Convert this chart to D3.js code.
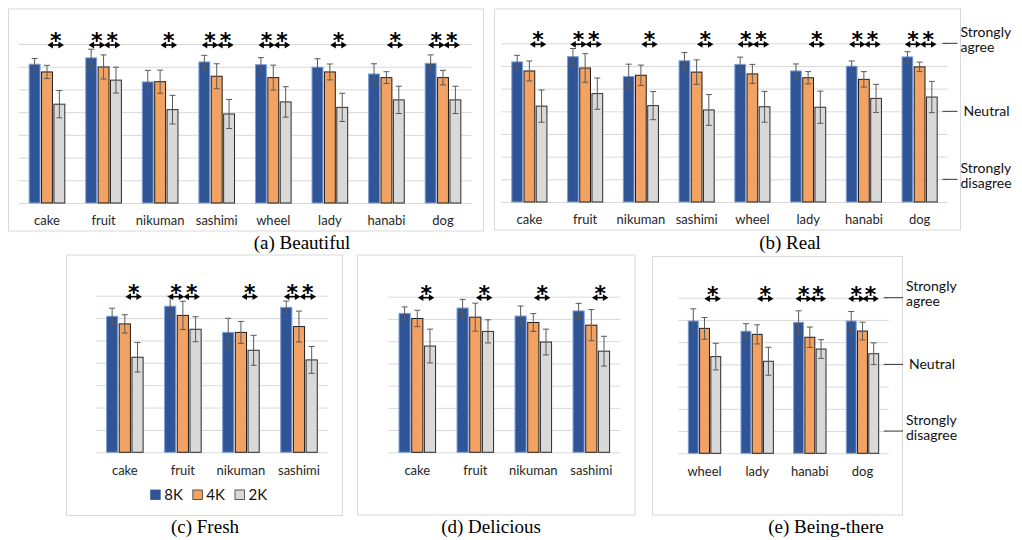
<!DOCTYPE html>
<html>
<head>
<meta charset="utf-8">
<script src="https://cdn.jsdelivr.net/npm/d3@7"></script>
<style>
  body { margin: 0; background: #fff; }
  svg { display: block; }
</style>
</head>
<body>
<svg id="chart" width="1022" height="540"></svg>
<script>
const resolutions = ['8K', '4K', '2K'];
const foodScenes = ['cake', 'fruit', 'nikuman', 'sashimi'];
const placeScenes = ['wheel', 'lady', 'hanabi', 'dog'];
const allScenes = [...foodScenes, ...placeScenes];
const yTicks = [0, 1, 2, 3, 4, 5, 6, 7];
const likertLevels = [7, 4, 1];
const likertText = [['Strongly', 'agree'], ['Neutral'], ['Strongly', 'disagree']];

// rows are 8K, 4K, 2K
const beautifulMean = [
  [6.11, 6.39, 5.33, 6.21, 6.09, 5.98, 5.68, 6.15],
  [5.77, 5.99, 5.34, 5.58, 5.52, 5.77, 5.52, 5.52],
  [4.35, 5.41, 4.11, 3.92, 4.45, 4.21, 4.54, 4.54]
];
const beautifulErr = [
  [0.25, 0.38, 0.51, 0.29, 0.31, 0.37, 0.45, 0.37],
  [0.29, 0.53, 0.51, 0.55, 0.55, 0.35, 0.26, 0.32],
  [0.60, 0.57, 0.63, 0.64, 0.67, 0.62, 0.60, 0.60]
];
const realMean = [
  [6.18, 6.41, 5.54, 6.23, 6.07, 5.78, 5.99, 6.40],
  [5.78, 5.91, 5.59, 5.73, 5.65, 5.48, 5.41, 5.96],
  [4.23, 4.78, 4.25, 4.06, 4.20, 4.18, 4.57, 4.63]
];
const realErr = [
  [0.29, 0.36, 0.54, 0.36, 0.32, 0.31, 0.23, 0.23],
  [0.44, 0.63, 0.45, 0.54, 0.42, 0.27, 0.34, 0.21],
  [0.71, 0.69, 0.62, 0.68, 0.68, 0.71, 0.62, 0.69]
];
const freshMean = [
  [6.08, 6.53, 5.36, 6.48],
  [5.74, 6.12, 5.36, 5.62],
  [4.25, 5.50, 4.56, 4.13]
];
const freshErr = [
  [0.36, 0.45, 0.63, 0.28],
  [0.41, 0.63, 0.49, 0.69],
  [0.66, 0.56, 0.67, 0.60]
];
const deliciousMean = [
  [6.25, 6.49, 6.13, 6.36],
  [6.02, 6.08, 5.84, 5.72],
  [4.78, 5.44, 4.96, 4.55]
];
const deliciousErr = [
  [0.29, 0.39, 0.45, 0.34],
  [0.37, 0.63, 0.40, 0.70],
  [0.76, 0.52, 0.58, 0.67]
];
const beingMean = [
  [5.95, 5.49, 5.89, 5.95],
  [5.62, 5.35, 5.22, 5.50],
  [4.35, 4.14, 4.69, 4.48]
];
const beingErr = [
  [0.55, 0.34, 0.52, 0.43],
  [0.49, 0.43, 0.46, 0.40],
  [0.60, 0.63, 0.42, 0.49]
];

// significant pairs (indices into resolutions), one list per scene
const beautifulSig = [[[1, 2]], [[0, 1], [1, 2]], [[1, 2]], [[0, 1], [1, 2]], [[0, 1], [1, 2]], [[1, 2]], [[1, 2]], [[0, 1], [1, 2]]];
const realSig = [[[1, 2]], [[0, 1], [1, 2]], [[1, 2]], [[1, 2]], [[0, 1], [1, 2]], [[1, 2]], [[0, 1], [1, 2]], [[0, 1], [1, 2]]];
const freshSig = [[[1, 2]], [[0, 1], [1, 2]], [[1, 2]], [[0, 1], [1, 2]]];
const deliciousSig = [[[1, 2]], [[1, 2]], [[1, 2]], [[1, 2]]];
const beingSig = [[[1, 2]], [[1, 2]], [[0, 1], [1, 2]], [[0, 1], [1, 2]]];

const fill = { '8K': '#2f5597', '4K': '#f2a263', '2K': '#d9d9d9' };
const stroke = { '8K': '#7f9fd6', '4K': '#1e1e1e', '2K': '#2b2b2b' };
const sansFont = 'Lato, "Open Sans", sans-serif';
const serifFont = '"Liberation Serif", "Times New Roman", serif';

const panels = [
  { cats: allScenes, mean: beautifulMean, err: beautifulErr, sig: beautifulSig,
    frame: [8.5, 9, 475, 222], xr: [18.7, 471.3], yr: [203, 44], pad: 0.37,
    caption: '(a) Beautiful', capX: 302, capY: 249 },
  { cats: allScenes, mean: realMean, err: realErr, sig: realSig,
    frame: [494.5, 9, 466, 221], xr: [501.5, 947.5], yr: [202, 43.3], pad: 0.37,
    caption: '(b) Real', capX: 790, capY: 249, likertEnd: 957.5 },
  { cats: foodScenes, mean: freshMean, err: freshErr, sig: freshSig,
    frame: [66.5, 255, 276, 260.5], xr: [95.8, 328], yr: [452.3, 295.7], pad: 0.37,
    caption: '(c) Fresh', capX: 205, capY: 533, legend: true },
  { cats: foodScenes, mean: deliciousMean, err: deliciousErr, sig: deliciousSig,
    frame: [357.5, 255, 277.5, 260], xr: [388.3, 620.3], yr: [452.3, 296.7], pad: 0.37,
    caption: '(d) Delicious', capX: 491, capY: 533 },
  { cats: placeScenes, mean: beingMean, err: beingErr, sig: beingSig,
    frame: [652.5, 256.5, 250, 258.5], xr: [678.2, 888.8], yr: [453.3, 297.7], pad: 0.385,
    caption: '(e) Being-there', capX: 826, capY: 533, likertEnd: 903 }
];

const svg = d3.select('#chart');

panels.forEach(p => drawPanel(p));

function drawPanel(p) {
  const g = svg.append('g');

  g.append('rect')
    .attr('x', p.frame[0]).attr('y', p.frame[1])
    .attr('width', p.frame[2]).attr('height', p.frame[3])
    .attr('fill', 'none').attr('stroke', '#d9d9d9').attr('stroke-width', 1);

  const x0 = d3.scaleBand().domain(p.cats).range(p.xr)
    .paddingInner(p.pad).paddingOuter(p.pad / 2);
  const x1 = d3.scaleBand().domain(resolutions).range([0, x0.bandwidth()]).paddingInner(0.12);
  const y = d3.scaleLinear().domain([0, 7]).range(p.yr);

  // gridlines
  g.append('g')
    .attr('transform', `translate(${p.xr[0]},0)`)
    .call(d3.axisLeft(y).tickValues(yTicks).tickSize(-(p.xr[1] - p.xr[0])).tickFormat(''))
    .call(a => a.select('.domain').remove())
    .call(a => a.selectAll('line').attr('stroke', '#d9d9d9').attr('stroke-width', 1));

  // category labels
  g.append('g')
    .attr('transform', `translate(0,${p.yr[0]})`)
    .call(d3.axisBottom(x0).tickSize(0).tickPadding(13))
    .call(a => a.select('.domain').remove())
    .call(a => a.selectAll('text')
      .attr('fill', '#262626')
      .style('font-family', sansFont)
      .style('font-size', '13px'));

  const rows = [];
  p.cats.forEach((c, i) => {
    resolutions.forEach((r, k) => {
      rows.push({ cat: c, res: r, m: p.mean[k][i], e: p.err[k][i] });
    });
  });

  g.append('g')
    .selectAll('rect')
    .data(rows)
    .join('rect')
    .attr('x', d => x0(d.cat) + x1(d.res))
    .attr('y', d => y(d.m))
    .attr('width', x1.bandwidth())
    .attr('height', d => y(0) - y(d.m))
    .attr('fill', d => fill[d.res])
    .attr('stroke', d => stroke[d.res])
    .attr('stroke-width', 1);

  // error bars
  const eb = g.append('g')
    .selectAll('g')
    .data(rows)
    .join('g')
    .attr('stroke', '#5a5a5a')
    .attr('stroke-width', 1);
  const cx = d => x0(d.cat) + x1(d.res) + x1.bandwidth() / 2;
  eb.append('line')
    .attr('x1', cx).attr('x2', cx)
    .attr('y1', d => y(d.m + d.e)).attr('y2', d => y(d.m - d.e));
  eb.append('line')
    .attr('x1', d => cx(d) - 3).attr('x2', d => cx(d) + 3)
    .attr('y1', d => y(d.m + d.e)).attr('y2', d => y(d.m + d.e));
  eb.append('line')
    .attr('x1', d => cx(d) - 3).attr('x2', d => cx(d) + 3)
    .attr('y1', d => y(d.m - d.e)).attr('y2', d => y(d.m - d.e));

  // significance arrows
  const marks = [];
  p.cats.forEach((c, i) => {
    p.sig[i].forEach(([a, b]) => {
      const ca = x0(c) + x1(resolutions[a]) + x1.bandwidth() / 2;
      const cb = x0(c) + x1(resolutions[b]) + x1.bandwidth() / 2;
      const shift = a === 0 ? -0.5 : 2.5;
      marks.push({ x: (ca + cb) / 2 + shift });
    });
  });
  const ay = y(7) + 1;
  const half = 8.25;
  const sg = g.append('g').selectAll('g').data(marks).join('g')
    .attr('transform', d => `translate(${d.x},${ay})`);
  sg.append('line')
    .attr('x1', -half + 4).attr('x2', half - 4)
    .attr('stroke', '#000').attr('stroke-width', 1.6);
  sg.append('path')
    .attr('d', `M${-half},0L${-half + 5.5},-3.4L${-half + 5.5},3.4Z M${half},0L${half - 5.5},-3.4L${half - 5.5},3.4Z`)
    .attr('fill', '#000');
  sg.append('text')
    .attr('y', 3)
    .attr('text-anchor', 'middle')
    .style('font-family', '"DejaVu Sans", sans-serif')
    .style('font-size', '22px')
    .style('font-weight', 'bold')
    .attr('fill', '#000')
    .text('*');

  // likert annotations on the right
  if (p.likertEnd) {
    const la = g.append('g').selectAll('g')
      .data(likertLevels.map((v, i) => ({ v, lines: likertText[i] })))
      .join('g')
      .attr('transform', d => `translate(0,${y(d.v)})`);
    la.append('line')
      .attr('x1', p.xr[1] - 5).attr('x2', p.likertEnd)
      .attr('stroke', '#333').attr('stroke-width', 1);
    la.each(function (d) {
      const sel = d3.select(this);
      const single = d.lines.length === 1;
      d.lines.forEach((s, j) => {
        sel.append('text')
          .attr('x', p.likertEnd + (single ? 6 : 3))
          .attr('y', single ? 5 : (j === 0 ? -6.5 : 8.5))
          .attr('fill', '#111')
          .style('font-family', sansFont)
          .style('font-size', '14px')
          .text(s);
      });
    });
  }

  // legend
  if (p.legend) {
    const lg = g.append('g').attr('transform', 'translate(150.7,495)');
    let lx = 0;
    resolutions.forEach(r => {
      lg.append('rect')
        .attr('x', lx).attr('y', -5).attr('width', 9.5).attr('height', 9.5)
        .attr('fill', fill[r])
        .attr('stroke', r === '8K' ? fill[r] : '#333').attr('stroke-width', 0.8);
      const t = lg.append('text')
        .attr('x', lx + 13.5).attr('y', 5)
        .attr('fill', '#111')
        .style('font-family', sansFont)
        .style('font-size', '15px')
        .text(r);
      lx += 13.5 + t.node().getComputedTextLength() + 10;
    });
  }

  g.append('text')
    .attr('x', p.capX).attr('y', p.capY)
    .attr('text-anchor', 'middle')
    .attr('fill', '#000')
    .style('font-family', serifFont)
    .style('font-size', '19px')
    .text(p.caption);
}
</script>
</body>
</html>
